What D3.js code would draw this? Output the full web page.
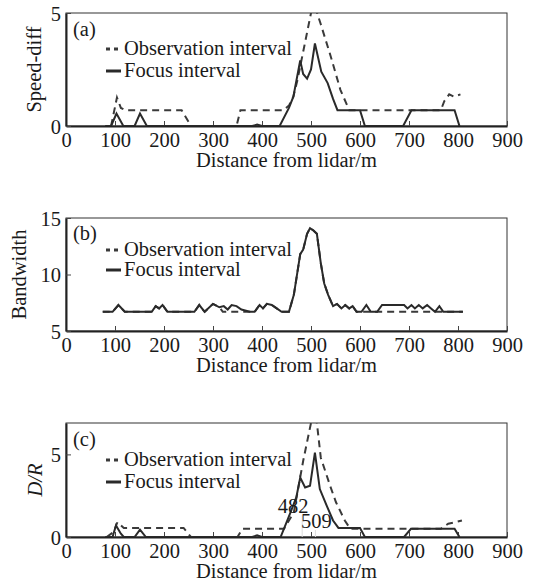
<!DOCTYPE html>
<html>
<head>
<meta charset="utf-8">
<script src="https://cdn.jsdelivr.net/npm/d3@7"></script>
<style>
  body { margin: 0; background: #fff; }
</style>
</head>
<body>
<div id="container"></div>
<script>
/* DATA */
const xTicks = [0, 100, 200, 300, 400, 500, 600, 700, 800, 900]

// (a) speed-diff
const aObsDist = [92, 104, 112, 121, 236, 255, 348, 356, 443, 455, 464, 472, 487, 500, 508, 520, 540, 560, 578, 700, 765, 772, 782, 792, 805]
const aObsVal = [0, 1.26, 0.8, 0.7, 0.7, 0, 0, 0.7, 0.7, 0.9, 1.3, 2.0, 3.6, 5.0, 5.3, 4.5, 3.1, 1.6, 0.7, 0.7, 0.7, 1.1, 1.4, 1.3, 1.4]
const aFocusDist = [80, 92, 103, 117, 140, 151, 165, 380, 390, 400, 436, 455, 464, 478, 484, 492, 500, 508, 521, 534, 545, 554, 600, 610, 688, 705, 793, 803]
const aFocusVal = [0, 0, 0.55, 0, 0, 0.55, 0, 0, 0.06, 0, 0, 0.8, 1.3, 2.9, 2.3, 2.1, 2.5, 3.65, 2.4, 1.9, 1.2, 0.7, 0.7, 0, 0, 0.7, 0.7, 0]
const aTicks = [0, 5]

// (b) bandwidth
const bObsDist = [75, 95, 107, 120, 175, 183, 190, 197, 207, 262, 272, 283, 300, 313, 320, 375, 385, 395, 402, 410, 420, 430, 440, 455, 465, 478, 484, 492, 498, 505, 512, 520, 527, 535, 545, 553, 562, 570, 578, 585, 593, 810]
const bObsVal = [6.7, 6.7, 7.3, 6.7, 6.7, 7.2, 7.0, 7.3, 6.7, 6.7, 7.3, 6.7, 7.4, 7.1, 6.7, 6.7, 6.7, 7.3, 7.0, 7.4, 7.3, 7.0, 6.7, 6.7, 8.2, 11.8, 12.2, 13.6, 14.1, 13.9, 13.6, 11.0, 9.2, 8.2, 7.2, 7.4, 7.0, 7.3, 7.0, 7.2, 6.7, 6.7]
const bFocusDist = [75, 95, 107, 120, 175, 183, 190, 197, 207, 262, 272, 283, 300, 313, 322, 330, 338, 348, 358, 375, 385, 395, 402, 410, 420, 430, 440, 455, 465, 478, 484, 492, 498, 505, 512, 520, 527, 535, 545, 553, 562, 570, 578, 585, 593, 603, 613, 622, 635, 645, 690, 697, 705, 712, 720, 728, 737, 745, 753, 762, 770, 810]
const bFocusVal = [6.7, 6.7, 7.3, 6.7, 6.7, 7.2, 7.0, 7.3, 6.7, 6.7, 7.3, 6.7, 7.4, 7.1, 7.2, 6.9, 7.3, 7.2, 6.9, 6.7, 6.7, 7.3, 7.0, 7.4, 7.3, 7.0, 6.7, 6.7, 8.2, 11.8, 12.2, 13.6, 14.1, 13.9, 13.6, 11.0, 9.2, 8.2, 7.2, 7.4, 7.0, 7.3, 7.0, 7.2, 6.7, 6.7, 7.3, 6.7, 6.7, 7.3, 7.3, 7.0, 7.3, 7.0, 7.3, 7.0, 7.3, 7.0, 6.7, 7.2, 6.7, 6.7]
const bTicks = [5, 10, 15]

// (c) D/R
const cObsDist = [83, 97, 105, 118, 240, 255, 350, 360, 445, 465, 484, 500, 506, 512, 520, 539, 551, 569, 580, 700, 765, 780, 795, 808]
const cObsVal = [0, 0.3, 0.9, 0.55, 0.55, 0, 0, 0.5, 0.5, 1.5, 4.6, 6.9, 7.2, 6.9, 4.8, 3.1, 2.1, 1.0, 0.5, 0.5, 0.5, 0.8, 0.9, 1.0]
const cFocusDist = [80, 95, 102, 112, 118, 140, 151, 163, 380, 390, 400, 438, 457, 470, 478, 488, 498, 508, 518, 532, 545, 556, 600, 610, 690, 704, 793, 803]
const cFocusVal = [0, 0, 0.7, 0.2, 0, 0, 0.45, 0, 0, 0.1, 0, 0, 1.4, 2.4, 3.6, 3.0, 3.1, 5.1, 2.9, 1.9, 1.0, 0.55, 0.55, 0, 0, 0.5, 0.5, 0]
const cTicks = [0, 5]
const cMarks = [482, 509]

/* CONSTANTS */
const width = 538, height = 583
const left = 66, right = 507
const fontSize = 20.5
const serif = '"Liberation Serif", "Times New Roman", Times, "DejaVu Serif", serif'

const panels = [
  { tag: '(a)', label: 'Speed-diff', labelX: 34, italic: false, top: 13, bottom: 126, domain: [0, 5], ticks: aTicks,
    obs: d3.zip(aObsDist, aObsVal), focus: d3.zip(aFocusDist, aFocusVal), leg: [36, 55, 77] },
  { tag: '(b)', label: 'Bandwidth', labelX: 19, italic: false, top: 218, bottom: 331, domain: [5, 15], ticks: bTicks,
    obs: d3.zip(bObsDist, bObsVal), focus: d3.zip(bFocusDist, bFocusVal), leg: [240, 256, 276] },
  { tag: '(c)', label: 'D/R', labelX: 35, italic: true, top: 423, bottom: 537, domain: [0, 6.9], ticks: cTicks,
    obs: d3.zip(cObsDist, cObsVal), focus: d3.zip(cFocusDist, cFocusVal), leg: [446, 466, 488] }
]

const svg = d3.select('#container')
  .append('svg')
  .attr('width', width)
  .attr('height', height)
  .style('font-family', serif)

const xScale = d3.scaleLinear().domain([0, 900]).range([left, right])

function label(g) {
  return g.append('text')
    .style('font-family', serif)
    .attr('font-size', fontSize)
    .attr('fill', '#1a1a1a')
}

panels.forEach((p, i) => {
  const yScale = d3.scaleLinear().domain(p.domain).range([p.bottom, p.top])
  const g = svg.append('g')

  g.append('clipPath').attr('id', 'clip' + i)
    .append('rect')
    .attr('x', left).attr('y', p.top)
    .attr('width', right - left).attr('height', p.bottom - p.top)

  // frame
  g.append('rect')
    .attr('x', left).attr('y', p.top)
    .attr('width', right - left).attr('height', p.bottom - p.top)
    .attr('fill', 'none').attr('stroke', '#333').attr('stroke-width', 1)

  // axes, ticks inside
  const xAxis = d3.axisBottom(xScale).tickValues(xTicks).tickFormat(d3.format('d'))
    .tickSizeInner(-5).tickSizeOuter(0)
  const xg = g.append('g').attr('transform', `translate(0, ${p.bottom})`).call(xAxis)
  const yAxis = d3.axisLeft(yScale).tickValues(p.ticks).tickFormat(d3.format('d'))
    .tickSizeInner(-5).tickSizeOuter(0)
  const yg = g.append('g').attr('transform', `translate(${left}, 0)`).call(yAxis)
  ;[xg, yg].forEach(a => {
    a.attr('font-family', null).attr('font-size', null)
    a.select('.domain').attr('stroke', '#222').attr('stroke-width', 2)
    a.selectAll('.tick line').attr('stroke', '#444')
    a.selectAll('.tick text').attr('font-size', fontSize).attr('fill', '#1a1a1a')
      .style('font-family', serif)
  })
  xg.selectAll('.tick text').attr('dy', null).attr('y', 21)
  yg.selectAll('.tick text').attr('x', -5).attr('dy', '0.35em')

  label(g)
    .attr('x', (left + right) / 2).attr('y', p.bottom + 41)
    .attr('text-anchor', 'middle')
    .text('Distance from lidar/m')

  label(g)
    .attr('transform', `translate(${p.labelX}, ${(p.top + p.bottom) / 2}) rotate(-90)`)
    .attr('text-anchor', 'middle').attr('dy', '0.35em')
    .attr('font-style', p.italic ? 'italic' : 'normal')
    .text(p.label)

  // lines
  const lineGen = d3.line().x(d => xScale(d[0])).y(d => yScale(d[1]))
  const lines = g.append('g').attr('clip-path', `url(#clip${i})`)
  lines.append('path')
    .attr('d', lineGen(p.obs))
    .attr('fill', 'none').attr('stroke', '#3a3a3a').attr('stroke-width', 2)
    .attr('stroke-dasharray', '7,5')
  lines.append('path')
    .attr('d', lineGen(p.focus))
    .attr('fill', 'none').attr('stroke', '#2a2a2a').attr('stroke-width', 2)

  // legend
  label(g).attr('x', 73).attr('y', p.leg[0]).text(p.tag)
  g.append('line')
    .attr('x1', 106).attr('x2', 121).attr('y1', p.leg[1] - 6).attr('y2', p.leg[1] - 6)
    .attr('stroke', '#3a3a3a').attr('stroke-width', 3).attr('stroke-dasharray', '4,4')
  label(g).attr('x', 124).attr('y', p.leg[1]).text('Observation interval')
  g.append('line')
    .attr('x1', 106).attr('x2', 121).attr('y1', p.leg[2] - 6).attr('y2', p.leg[2] - 6)
    .attr('stroke', '#2a2a2a').attr('stroke-width', 3)
  label(g).attr('x', 124).attr('y', p.leg[2]).text('Focus interval')

  if (i === 2) {
    const yOff = [513, 528]
    cMarks.forEach((m, k) => {
      g.append('line')
        .attr('x1', xScale(m)).attr('x2', xScale(m))
        .attr('y1', yOff[k] + 2).attr('y2', p.bottom)
        .attr('stroke', '#ddd').attr('stroke-width', 1)
      label(g)
        .attr('x', xScale(m) - (k === 0 ? 9 : -1)).attr('y', yOff[k])
        .attr('text-anchor', 'middle')
        .text(m)
    })
  }
})
</script>
</body>
</html>
